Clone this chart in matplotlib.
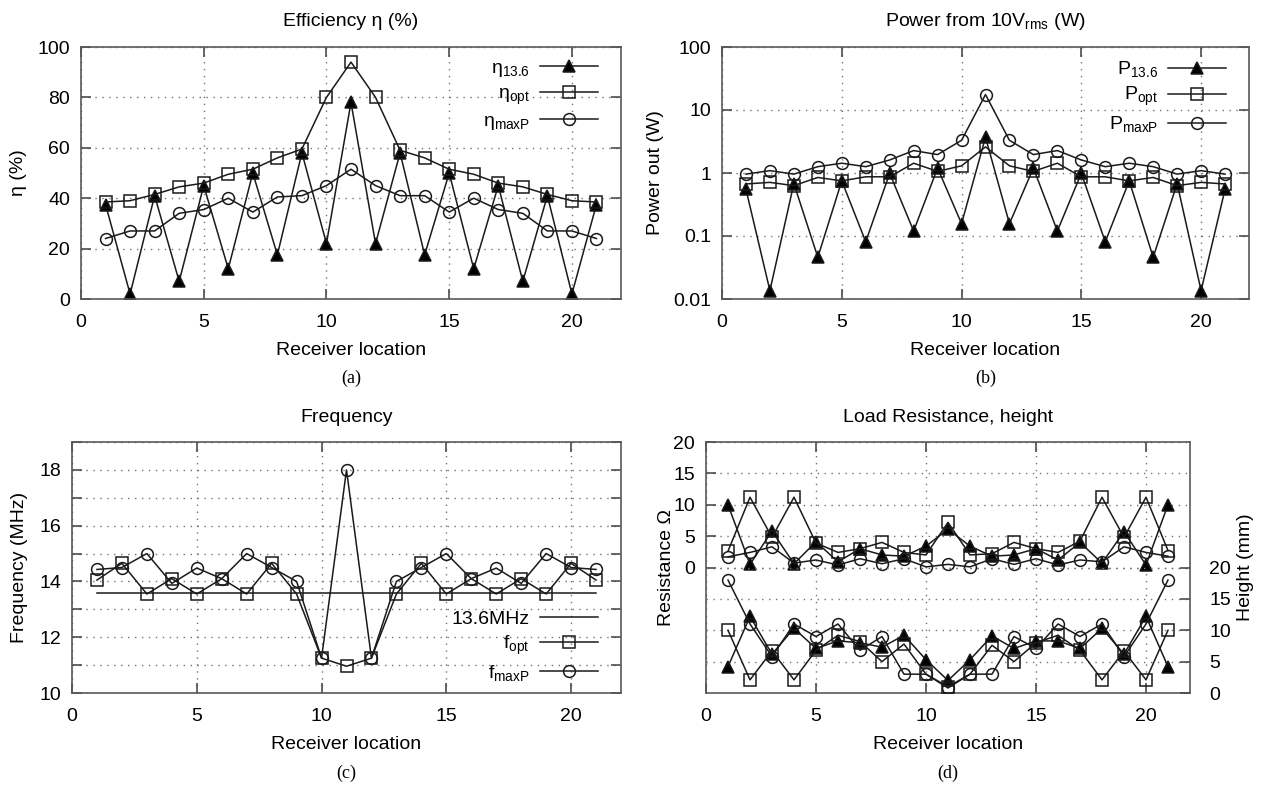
import numpy as np
import matplotlib
matplotlib.use("Agg")
import matplotlib.pyplot as plt
from matplotlib.ticker import MultipleLocator

plt.rcParams['font.family'] = ['Liberation Sans', 'DejaVu Sans']
plt.rcParams['mathtext.fontset'] = 'custom'
plt.rcParams['mathtext.rm'] = 'Liberation Sans'
plt.rcParams['mathtext.it'] = 'Liberation Sans:italic'
plt.rcParams['font.size'] = 14

loc = list(range(1, 22))

# (a) efficiency, %
eta_136 = [37.5, 2, 41, 7, 45, 12, 50, 17.5, 58, 22, 78, 22, 58, 17.5, 50, 12, 45, 7, 41, 2, 37.5]
eta_opt = [38.5, 39, 41.5, 44.5, 46, 49.5, 51.5, 56, 59.5, 80, 94, 80, 59, 56, 51.5, 49.5, 46, 44.5, 41.5, 39, 38.5]
eta_maxp = [24, 27, 27, 34, 35.5, 40, 34.5, 40.5, 41, 45, 51.5, 45, 41, 41, 34.5, 40, 35.5, 34, 27, 27, 24]

# (b) power out, W
p_136 = [0.55, 0.0136, 0.68, 0.046, 0.75, 0.081, 0.99, 0.12, 1.2, 0.157, 3.7, 0.157, 1.2, 0.12, 0.99, 0.081, 0.75, 0.046, 0.68, 0.0136, 0.55]
p_opt = [0.67, 0.71, 0.63, 0.85, 0.75, 0.87, 0.87, 1.43, 1.06, 1.3, 2.6, 1.3, 1.06, 1.43, 0.87, 0.87, 0.75, 0.85, 0.63, 0.71, 0.67]
p_maxp = [0.96, 1.09, 0.96, 1.26, 1.43, 1.26, 1.61, 2.27, 1.96, 3.3, 17.6, 3.3, 1.96, 2.27, 1.61, 1.26, 1.43, 1.26, 0.96, 1.09, 0.96]

# (c) frequency, MHz
f_ref = 13.6
f_opt = [14.05, 14.65, 13.55, 14.1, 13.55, 14.1, 13.55, 14.65, 13.55, 11.25, 10.96, 11.25, 13.55, 14.65, 13.55, 14.1, 13.55, 14.1, 13.55, 14.65, 14.05]
f_maxp = [14.43, 14.5, 15.0, 13.93, 14.48, 14.1, 15.0, 14.5, 14.0, 11.25, 18.0, 11.25, 14.0, 14.5, 15.0, 14.1, 14.48, 13.93, 15.0, 14.5, 14.43]

# (d) load resistance (ohm) and height (mm)
r_136 = [10, 0.5, 5.8, 0.6, 4.1, 0.9, 3.0, 2.0, 1.8, 3.4, 6.1, 3.4, 1.8, 2.0, 3.0, 1.2, 4.0, 0.7, 5.7, 0.4, 10]
r_opt = [2.6, 11.2, 4.8, 11.2, 3.9, 2.4, 3.0, 4.0, 2.4, 2.0, 7.2, 2.0, 2.2, 4.0, 3.0, 2.4, 4.2, 11.2, 4.8, 11.2, 2.7]
r_maxp = [1.7, 2.4, 3.3, 0.7, 1.2, 0.4, 1.4, 0.6, 1.4, 0.1, 0.5, 0.1, 1.4, 0.5, 1.4, 0.4, 1.2, 0.9, 3.3, 2.4, 1.8]
h_136 = [4.2, 12.2, 6.2, 10.3, 7.1, 8.3, 8.0, 7.3, 9.2, 5.3, 2.0, 5.3, 9.1, 7.1, 8.3, 8.3, 7.1, 10.3, 6.2, 12.2, 4.2]
h_opt = [10, 2.1, 6.7, 2.1, 6.8, 9.2, 8.2, 5.0, 7.8, 3.0, 1.0, 3.0, 7.6, 5.0, 8.0, 9.2, 6.8, 2.1, 6.7, 2.1, 10]
h_maxp = [18, 11, 5.8, 11, 9, 11, 6.8, 9, 3, 3, 0.8, 3, 3, 9, 7.1, 11, 9, 11, 5.8, 11, 18]

W, H = 1262, 787
fig = plt.figure(figsize=(W / 100, H / 100), dpi=100)

GRID = dict(linestyle=(0, (1, 4)), color='0.45', linewidth=1.0)


def box(l, t, r, b):
    return fig.add_axes([l / W, 1 - b / H, (r - l) / W, (b - t) / H])


def style(ax):
    ax.set_xlim(0, 22)
    ax.xaxis.set_major_locator(MultipleLocator(5))
    ax.tick_params(direction='in', top=True, right=True, length=7, width=1.2,
                   labelsize=14, color='0.3')
    ax.tick_params(axis='x', pad=11)
    ax.tick_params(axis='y', pad=8)
    ax.grid(True, **GRID)
    for s in ax.spines.values():
        s.set_linewidth(1.2)
        s.set_color('0.35')


def series(ax, y, mk, label=None):
    filled = mk == '^'
    ms = {'^': 8, 's': 8.5, 'o': 8.5}[mk]
    ax.plot(loc, y, color='0.1', lw=1.1, marker=mk, ms=ms,
            mfc='black' if filled else 'none', mec='0.1', mew=1.1, label=label)


def legend(ax, **kw):
    ax.legend(frameon=False, markerfirst=False, handlelength=3.0,
              handletextpad=0.5, labelspacing=0.3, fontsize=14, **kw)


def caption(ax, title, cap, ty, cy):
    bb = ax.get_position()
    cx = (bb.x0 + bb.x1) / 2
    fig.text(cx, 1 - ty / H, title, ha='center', va='center', fontsize=14)
    fig.text(cx, 1 - cy / H, cap, ha='center', va='center', fontsize=13,
             family='Liberation Serif')


# (a)
ax = box(81, 47, 621, 299)
style(ax)
series(ax, eta_136, '^', r'η$_{13.6}$')
series(ax, eta_opt, 's', r'η$_{\mathrm{opt}}$')
series(ax, eta_maxp, 'o', r'η$_{\mathrm{maxP}}$')
ax.set_ylim(0, 100)
ax.yaxis.set_major_locator(MultipleLocator(20))
ax.set_xlabel('Receiver location')
ax.set_ylabel('η (%)')
ax.yaxis.set_label_coords(-0.1, 0.5)
ax.xaxis.set_label_coords(0.5, -0.17)
legend(ax, loc='upper right', bbox_to_anchor=(0.99, 1.02))
caption(ax, 'Efficiency η (%)', '(a)', 22, 378)

# (b)
ax = box(722, 47, 1249, 299)
style(ax)
series(ax, p_136, '^', r'P$_{13.6}$')
series(ax, p_opt, 's', r'P$_{\mathrm{opt}}$')
series(ax, p_maxp, 'o', r'P$_{\mathrm{maxP}}$')
ax.set_yscale('log')
ax.set_ylim(0.01, 100)
ax.set_yticks([0.01, 0.1, 1, 10, 100])
ax.set_yticklabels(['0.01', '0.1', '1', '10', '100'])
ax.minorticks_off()
ax.xaxis.set_major_locator(MultipleLocator(5))
ax.set_xlabel('Receiver location')
ax.set_ylabel('Power out (W)')
ax.yaxis.set_label_coords(-0.11, 0.5)
ax.xaxis.set_label_coords(0.5, -0.17)
legend(ax, loc='upper right', bbox_to_anchor=(0.99, 1.02))
caption(ax, r'Power from 10V$_{\mathrm{rms}}$ (W)', '(b)', 22, 378)

# (c)
ax = box(72, 442, 621, 693)
style(ax)
ax.plot(loc, np.full(len(loc), f_ref), color='0.1', lw=1.1, label='13.6MHz')
series(ax, f_opt, 's', r'f$_{\mathrm{opt}}$')
series(ax, f_maxp, 'o', r'f$_{\mathrm{maxP}}$')
ax.set_ylim(10, 19)
ax.yaxis.set_major_locator(MultipleLocator(2))
ax.yaxis.set_minor_locator(MultipleLocator(1))
ax.tick_params(axis='y', which='minor', direction='in', right=True, length=7, width=1.2, color='0.3')
ax.grid(True, which='minor', axis='y', **GRID)
ax.set_xlabel('Receiver location')
ax.set_ylabel('Frequency (MHz)')
ax.yaxis.set_label_coords(-0.08, 0.5)
ax.xaxis.set_label_coords(0.5, -0.17)
legend(ax, loc='lower right', bbox_to_anchor=(0.99, -0.03))
caption(ax, 'Frequency', '(c)', 418, 773)

# (d)
ax = box(706, 442, 1190, 693)
style(ax)
ax.set_ylim(-20, 20)
ax.set_yticks([0, 5, 10, 15, 20])
series(ax, r_136, '^')
series(ax, r_opt, 's')
series(ax, r_maxp, 'o')
ax.tick_params(axis='y', labelright=False)
axr = ax.twinx()
axr.set_ylim(0, 40)
axr.set_yticks([0, 5, 10, 15, 20])
axr.tick_params(direction='in', length=7, width=1.2, labelsize=14, color='0.3', pad=14)
axr.grid(True, axis='y', **GRID)
for s in axr.spines.values():
    s.set_visible(False)
series(axr, h_136, '^')
series(axr, h_opt, 's')
series(axr, h_maxp, 'o')
ax.set_xlabel('Receiver location')
ax.set_ylabel('Resistance Ω')
axr.set_ylabel('Height (mm)')
ax.yaxis.set_label_coords(-0.065, 0.5)
axr.yaxis.set_label_coords(1.097, 0.5)
ax.xaxis.set_label_coords(0.5, -0.17)
caption(ax, 'Load Resistance, height', '(d)', 418, 773)

fig.savefig('out.png', dpi=100)
